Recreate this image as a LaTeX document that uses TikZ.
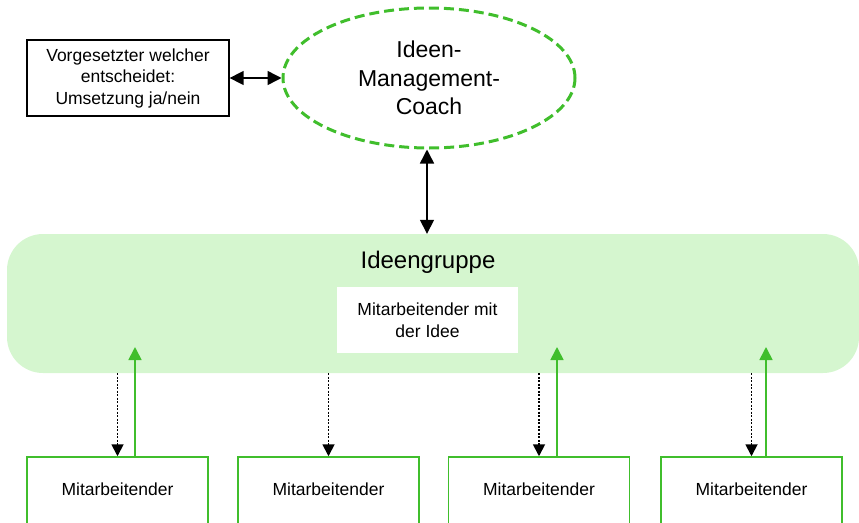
\documentclass[tikz,border=0pt]{standalone}
\usepackage{fontspec}
\setmainfont{Liberation Sans}
\usetikzlibrary{arrows.meta,shapes.geometric}
\definecolor{grn}{RGB}{64,190,44}
\definecolor{lgrn}{RGB}{213,246,207}
\tikzset{
  smalltext/.style={font=\fontsize{17.5}{21.5}\selectfont, align=center},
  bigtext/.style={font=\fontsize{23}{28.5}\selectfont, align=center},
  bossbox/.style={draw=black, line width=1.3pt, fill=white, minimum width=202pt, minimum height=76pt, inner sep=0pt, smalltext},
  coachell/.style={ellipse, draw=grn, line width=3pt, dash pattern=on 10pt off 5pt, minimum width=292pt, minimum height=140pt, inner sep=0pt, bigtext},
  groupbox/.style={fill=lgrn, rounded corners=36pt, minimum width=852pt, minimum height=139pt, inner sep=0pt},
  whitebox/.style={fill=white, minimum width=181pt, minimum height=66pt, inner sep=0pt, smalltext},
  workerbox/.style={draw=grn, line width=1.5pt, fill=white, minimum width=181pt, minimum height=68pt, inner sep=0pt, smalltext},
  blackarrow/.style={line width=1.5pt, {Triangle[length=14pt,width=14pt]}-{Triangle[length=14pt,width=14pt]}},
  dotarrow/.style={line width=1.8pt, dash pattern=on 2pt off 1.5pt, -{Triangle[length=12pt,width=12pt]}},
  greenarrow/.style={draw=grn, line width=1.7pt, -{Triangle[length=13pt,width=13pt]}, fill=grn}
}
\begin{document}
\begin{tikzpicture}[x=1pt,y=-1pt]
\useasboundingbox (0,0) rectangle (859,522);
\node[bossbox] (boss) at (128,78) {Vorgesetzter welcher\\entscheidet:\\Umsetzung ja/nein};
\node[coachell] (coach) at (429,78) {Ideen-\\Management-\\Coach};
\node[groupbox] (group) at (433,303.5) {};
\node[font=\fontsize{24}{28}\selectfont] (gtitle) at (428,262) {Ideengruppe};
\node[whitebox] (idea) at (427.5,320) {Mitarbeitender mit\\der Idee};
\node[workerbox] (b1) at (117.5,491) {\raisebox{4pt}{Mitarbeitender}};
\node[workerbox] (b2) at (328.5,491) {\raisebox{4pt}{Mitarbeitender}};
\node[workerbox] (b3) at (539,491) {\raisebox{4pt}{Mitarbeitender}};
\node[workerbox] (b4) at (751.5,491) {\raisebox{4pt}{Mitarbeitender}};
\draw[blackarrow] (boss.east) -- (coach.west);
\draw[blackarrow] ([xshift=-2pt]coach.south) -- ([xshift=-2pt]coach.south |- group.north);
\foreach \b in {b1,b2,b3,b4}{
  \draw[dotarrow] (\b.north |- group.south) -- (\b.north);
}
\coordinate (g1) at (135,347);
\coordinate (g3) at (557,347);
\coordinate (g4) at (766,347);
\foreach \g/\b in {g1/b1,g3/b3,g4/b4}{
  \draw[greenarrow] (\g |- \b.north) -- (\g);
}
\end{tikzpicture}
\end{document}
